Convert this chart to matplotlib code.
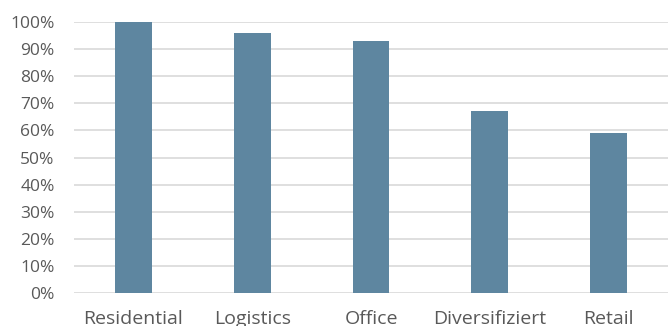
import matplotlib.pyplot as plt
import matplotlib.ticker as mtick
import numpy as np

categories = ['Residential', 'Logistics', 'Office', 'Diversifiziert', 'Retail']
values = [100, 96, 93, 67, 59]

plt.rcParams['font.family'] = ['Open Sans', 'DejaVu Sans']

fig = plt.figure(figsize=(6.68, 3.26), dpi=100)
ax = fig.add_axes([74 / 668, 1 - 293 / 326, 1 - 74 / 668, (293 - 22) / 326])

x = np.arange(len(categories))
ax.bar(x, values, width=0.31, color='#5E86A0', zorder=3)

ax.set_xlim(-0.5, len(categories) - 0.5)
ax.set_ylim(0, 100)
ax.set_yticks(np.arange(0, 101, 10))
ax.yaxis.set_major_formatter(mtick.PercentFormatter(decimals=0))
ax.set_xticks(x)
ax.set_xticklabels(categories)

ax.grid(axis='y', color='#D9D9D9', linewidth=1.2, zorder=0)
ax.set_axisbelow(True)
for s in ax.spines.values():
    s.set_visible(False)
ax.tick_params(axis='both', length=0, labelcolor='#595959')
ax.tick_params(axis='x', pad=12, labelsize=14)
ax.tick_params(axis='y', pad=14, labelsize=12.5)

fig.savefig('out.png', dpi=100)
